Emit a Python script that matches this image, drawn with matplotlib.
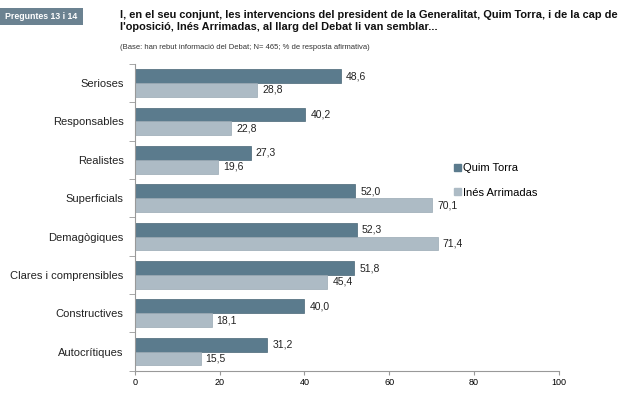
import numpy as np
from matplotlib import pyplot as plt
from matplotlib.patches import Patch

plt.rcParams['font.family'] = ['Liberation Sans', 'DejaVu Sans']

categories = ['Serioses', 'Responsables', 'Realistes', 'Superficials',
              'Demagògiques', 'Clares i comprensibles', 'Constructives', 'Autocrítiques']
torra = [48.6, 40.2, 27.3, 52.0, 52.3, 51.8, 40.0, 31.2]
arrimadas = [28.8, 22.8, 19.6, 70.1, 71.4, 45.4, 18.1, 15.5]

c_dark = '#5b7b8d'
c_light = '#adbbc5'
c_axis = '#999999'

fig = plt.figure(figsize=(6.3, 4.2), dpi=100)
ax = fig.add_axes([0.214, 0.117, 0.673, 0.731])

n = len(categories)
y = np.arange(n)
h = 0.36
ax.barh(y - h / 2, torra, height=h, color=c_dark, edgecolor='#4a6676', linewidth=0.5)
ax.barh(y + h / 2, arrimadas, height=h, color=c_light, edgecolor='#9aa9b4', linewidth=0.5)

def fmt(v):
    return ('%.1f' % v).replace('.', ',')

for i in range(n):
    ax.text(torra[i] + 1.2, y[i] - h / 2, fmt(torra[i]), va='center', ha='left', fontsize=7.5, color='#222222')
    ax.text(arrimadas[i] + 1.2, y[i] + h / 2, fmt(arrimadas[i]), va='center', ha='left', fontsize=7.5, color='#222222')

ax.set_xlim(0, 100)
ax.set_ylim(n - 0.5, -0.5)
ax.set_xticks([0, 20, 40, 60, 80, 100])
ax.tick_params(axis='x', labelsize=6.5, length=3, color=c_axis, pad=2)

# etiquetes al centre, marques entre grups
ax.set_yticks(y)
ax.set_yticklabels(categories, fontsize=8, color='#222222')
ax.tick_params(axis='y', length=0, pad=8)
ax.set_yticks(np.arange(-0.5, n, 1), minor=True)
ax.tick_params(axis='y', which='minor', length=4, color=c_axis)

for s in ['top', 'right']:
    ax.spines[s].set_visible(False)
for s in ['left', 'bottom']:
    ax.spines[s].set_color(c_axis)
    ax.spines[s].set_linewidth(0.8)

handles = [Patch(color=c_dark, label='Quim Torra'), Patch(color=c_light, label='Inés Arrimadas')]
fig.legend(handles=handles, loc='upper left', bbox_to_anchor=(0.705, 0.635), frameon=False,
           fontsize=8, handlelength=0.6, handleheight=0.6, handletextpad=0.2, labelspacing=1.3)

# capçalera
fig.patches.append(plt.Rectangle((0.0, 0.94), 0.132, 0.04, transform=fig.transFigure,
                                 fc='#6b8291', ec='none'))
fig.text(0.066, 0.960, 'Preguntes 13 i 14', fontsize=6.3, fontweight='bold', color='white',
         va='center', ha='center')
fig.text(0.19, 0.950, "I, en el seu conjunt, les intervencions del president de la Generalitat, Quim Torra, i de la cap de\n"
         "l'oposició, Inés Arrimadas, al llarg del Debat li van semblar...",
         fontsize=7.9, fontweight='bold', color='#111111', va='center', ha='left', linespacing=1.3)
fig.text(0.19, 0.887, '(Base: han rebut informació del Debat; N= 465; % de resposta afirmativa)',
         fontsize=5.5, color='#333333', va='center', ha='left')

fig.savefig('out.png', dpi=100, facecolor='white')
